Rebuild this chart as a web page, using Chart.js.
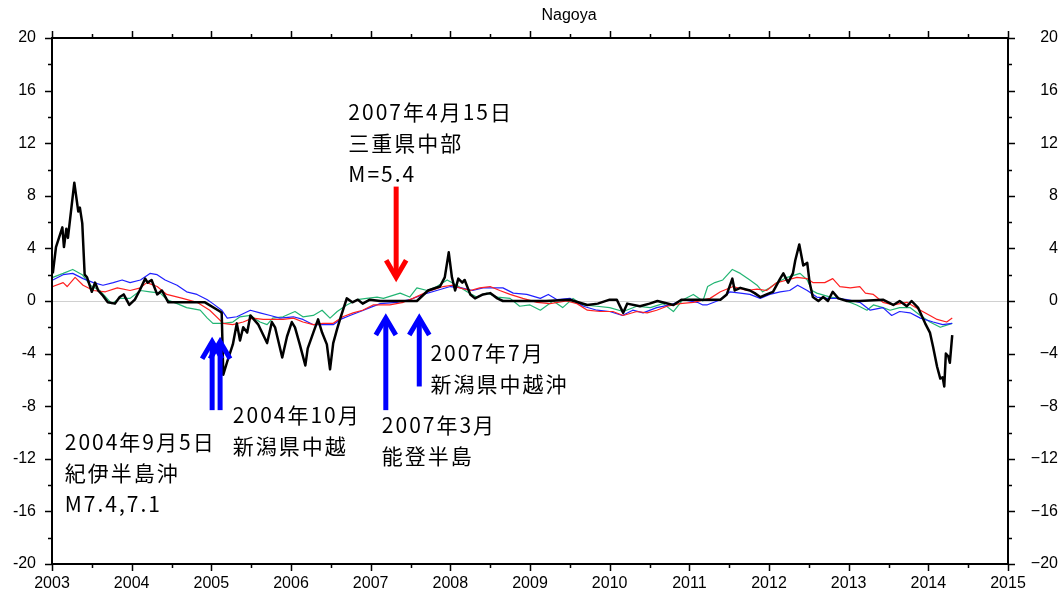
<!DOCTYPE html>
<html lang="ja">
<head>
  <meta charset="UTF-8">
  <title>Nagoya</title>
  <script src="https://cdn.jsdelivr.net/npm/chart.js"></script>
  <style>
    body {
      margin: 0;
      background: #ffffff;
    }
    canvas {
      display: block;
    }
  </style>
</head>
<body>

<canvas id="chart" width="1064" height="596"></canvas>

<script>
  // time axis in decimal years
  const blackYears = [2003.01, 2003.05, 2003.13, 2003.15, 2003.18, 2003.20, 2003.28, 2003.33, 2003.35, 2003.38,
    2003.41, 2003.44, 2003.50, 2003.54, 2003.58, 2003.64, 2003.70, 2003.79, 2003.85, 2003.90,
    2003.97, 2004.04, 2004.10, 2004.17, 2004.20, 2004.25, 2004.32, 2004.38, 2004.46, 2004.60,
    2004.75, 2004.92, 2005.11, 2005.13, 2005.15, 2005.20, 2005.27, 2005.32, 2005.36, 2005.40,
    2005.45, 2005.49, 2005.52, 2005.59, 2005.70, 2005.76, 2005.80, 2005.89, 2005.95, 2006.01,
    2006.05, 2006.11, 2006.18, 2006.21, 2006.28, 2006.34, 2006.39, 2006.45, 2006.49, 2006.53,
    2006.58, 2006.62, 2006.70, 2006.77, 2006.84, 2006.90, 2006.99, 2007.12, 2007.40, 2007.58,
    2007.72, 2007.87, 2007.93, 2007.98, 2008.02, 2008.06, 2008.10, 2008.15, 2008.18, 2008.25,
    2008.31, 2008.41, 2008.50, 2008.59, 2008.66, 2008.90, 2009.20, 2009.50, 2009.72, 2009.85,
    2010.00, 2010.09, 2010.17, 2010.22, 2010.38, 2010.50, 2010.60, 2010.80, 2010.90, 2011.10,
    2011.39, 2011.47, 2011.54, 2011.57, 2011.64, 2011.76, 2011.82, 2011.89, 2011.97, 2012.05,
    2012.14, 2012.18, 2012.24, 2012.30, 2012.33, 2012.38, 2012.43, 2012.48, 2012.51, 2012.55,
    2012.62, 2012.68, 2012.74, 2012.80, 2012.87, 2012.98, 2013.14, 2013.43, 2013.56, 2013.64,
    2013.73, 2013.79, 2013.87, 2013.96, 2014.02, 2014.06, 2014.11, 2014.15, 2014.18, 2014.20,
    2014.22, 2014.25, 2014.27, 2014.30];
  const blackVals = [2.1, 4.1, 5.6, 4.1, 5.5, 4.8, 9.0, 6.8, 7.1, 5.9,
    2.0, 1.8, 0.7, 1.4, 0.8, 0.4, -0.1, -0.2, 0.3, 0.5,
    -0.3, 0.1, 0.8, 1.7, 1.4, 1.6, 0.5, 0.8, -0.1, -0.1,
    -0.1, -0.1, -0.8, -0.9, -5.6, -4.6, -3.3, -1.7, -3.0, -2.0,
    -2.4, -1.1, -1.3, -1.8, -3.2, -1.6, -2.0, -4.3, -2.7, -1.6,
    -2.0, -3.3, -4.9, -3.6, -2.4, -1.4, -2.4, -3.3, -5.2, -3.2,
    -2.1, -1.3, 0.2, -0.1, 0.1, -0.2, 0.1, 0.0, 0.0, 0.0,
    0.8, 1.1, 1.8, 3.7, 1.8, 0.8, 1.7, 1.4, 1.6, 0.5,
    0.2, 0.5, 0.6, 0.2, 0.0, 0.0, 0.0, 0.1, -0.3, -0.2,
    0.1, 0.1, -0.9, -0.2, -0.4, -0.2, 0.0, -0.3, 0.1, 0.1,
    0.1, 0.5, 1.7, 0.8, 1.0, 0.8, 0.6, 0.3, 0.5, 0.7,
    1.7, 2.1, 1.4, 2.1, 3.1, 4.3, 2.7, 2.9, 1.4, 0.3,
    0.0, 0.3, 0.0, 0.7, 0.2, 0.0, 0.0, 0.1, -0.3, 0.0,
    -0.4, 0.0, -0.5, -1.7, -2.4, -3.5, -5.0, -5.9, -5.8, -6.5,
    -4.0, -4.2, -4.7, -2.6];

  const redYears = [2003.01, 2003.14, 2003.19, 2003.29, 2003.39, 2003.52, 2003.67, 2003.82, 2003.98, 2004.11,
    2004.19, 2004.32, 2004.44, 2004.64, 2004.82, 2004.98, 2005.15, 2005.27, 2005.40, 2005.52,
    2005.65, 2005.77, 2005.90, 2006.03, 2006.15, 2006.28, 2006.40, 2006.53, 2006.65, 2006.78,
    2006.90, 2007.03, 2007.24, 2007.41, 2007.53, 2007.71, 2007.91, 2008.02, 2008.12, 2008.25,
    2008.37, 2008.50, 2008.62, 2008.75, 2008.91, 2009.09, 2009.25, 2009.46, 2009.59, 2009.72,
    2009.88, 2010.04, 2010.17, 2010.34, 2010.47, 2010.59, 2010.72, 2010.88, 2011.05, 2011.26,
    2011.39, 2011.55, 2011.72, 2011.85, 2011.97, 2012.10, 2012.23, 2012.35, 2012.48, 2012.55,
    2012.70, 2012.80, 2012.89, 2013.02, 2013.14, 2013.21, 2013.31, 2013.43, 2013.56, 2013.73,
    2013.90, 2014.02, 2014.11, 2014.23, 2014.30];
  const redVals = [1.1, 1.4, 1.1, 1.8, 1.2, 0.8, 0.7, 1.0, 0.8, 1.0,
    1.4, 1.1, 0.5, 0.2, -0.1, -0.7, -1.7, -1.8, -1.6, -1.3,
    -1.4, -1.4, -1.4, -1.3, -1.6, -1.8, -1.7, -1.7, -1.2, -0.9,
    -0.7, -0.3, -0.3, -0.1, 0.2, 0.7, 1.1, 1.2, 1.0, 0.8,
    1.0, 1.1, 0.8, 0.5, 0.2, -0.1, -0.2, 0.0, -0.2, -0.7,
    -0.8, -0.8, -1.1, -0.8, -0.9, -0.7, -0.4, -0.2, -0.1, 0.2,
    0.7, 1.1, 0.8, 0.9, 0.8, 1.4, 1.6, 1.8, 1.7, 1.4,
    1.4, 1.7, 1.1, 1.0, 1.1, 0.6, 0.5, -0.1, -0.3, -0.1,
    -0.7, -1.1, -1.4, -1.6, -1.3];

  const blueYears = [2003.01, 2003.14, 2003.26, 2003.39, 2003.52, 2003.64, 2003.77, 2003.88, 2003.98, 2004.11,
    2004.23, 2004.32, 2004.42, 2004.57, 2004.69, 2004.82, 2004.95, 2005.02, 2005.13, 2005.20,
    2005.32, 2005.49, 2005.61, 2005.74, 2005.86, 2006.03, 2006.15, 2006.28, 2006.40, 2006.53,
    2006.62, 2006.74, 2006.87, 2006.99, 2007.12, 2007.33, 2007.49, 2007.66, 2007.83, 2008.00,
    2008.14, 2008.28, 2008.41, 2008.54, 2008.66, 2008.79, 2008.96, 2009.13, 2009.23, 2009.34,
    2009.50, 2009.67, 2009.84, 2010.00, 2010.16, 2010.29, 2010.42, 2010.59, 2010.76, 2010.92,
    2011.10, 2011.17, 2011.22, 2011.39, 2011.51, 2011.64, 2011.76, 2011.89, 2012.01, 2012.14,
    2012.26, 2012.36, 2012.48, 2012.60, 2012.73, 2012.85, 2012.98, 2013.14, 2013.27, 2013.43,
    2013.54, 2013.64, 2013.77, 2013.90, 2014.06, 2014.18, 2014.30];
  const blueVals = [1.6, 2.0, 2.1, 1.7, 1.4, 1.2, 1.4, 1.6, 1.4, 1.6,
    2.1, 2.0, 1.6, 1.2, 0.7, 0.5, 0.1, -0.2, -0.7, -1.3,
    -1.2, -0.7, -0.9, -1.1, -1.3, -1.2, -1.4, -1.8, -1.8, -1.8,
    -1.4, -1.1, -0.8, -0.5, -0.2, -0.1, 0.1, 0.5, 0.8, 1.1,
    1.0, 0.8, 1.0, 1.0, 1.0, 0.6, 0.5, 0.2, 0.5, 0.1,
    0.2, -0.4, -0.7, -0.8, -1.1, -0.7, -0.9, -0.5, -0.3, 0.1,
    -0.1, -0.3, -0.3, 0.1, 0.7, 0.6, 0.5, 0.2, 0.5, 0.7,
    0.8, 1.2, 0.8, 0.3, 0.2, 0.2, 0.1, -0.1, -0.7, -0.5,
    -1.1, -0.8, -0.9, -1.3, -1.6, -1.8, -1.7];

  const greenYears = [2003.01, 2003.14, 2003.26, 2003.38, 2003.48, 2003.60, 2003.75, 2003.85, 2003.98, 2004.11,
    2004.23, 2004.36, 2004.44, 2004.57, 2004.69, 2004.86, 2004.95, 2005.02, 2005.15, 2005.27,
    2005.36, 2005.49, 2005.61, 2005.70, 2005.77, 2005.90, 2006.05, 2006.15, 2006.28, 2006.39,
    2006.49, 2006.58, 2006.70, 2006.83, 2006.95, 2007.08, 2007.16, 2007.37, 2007.49, 2007.58,
    2007.71, 2007.83, 2007.96, 2008.08, 2008.21, 2008.33, 2008.46, 2008.59, 2008.75, 2008.87,
    2009.00, 2009.13, 2009.29, 2009.41, 2009.54, 2009.66, 2009.84, 2010.00, 2010.17, 2010.34,
    2010.51, 2010.67, 2010.80, 2010.92, 2011.05, 2011.17, 2011.23, 2011.32, 2011.42, 2011.54,
    2011.64, 2011.76, 2011.85, 2011.92, 2012.01, 2012.10, 2012.23, 2012.39, 2012.48, 2012.54,
    2012.60, 2012.77, 2012.89, 2013.10, 2013.23, 2013.31, 2013.43, 2013.52, 2013.64, 2013.77,
    2013.90, 2014.02, 2014.15, 2014.25, 2014.30];
  const greenVals = [1.8, 2.1, 2.4, 2.0, 1.2, 0.8, -0.2, 0.2, 0.2, 0.8,
    0.7, 0.6, 0.1, -0.2, -0.5, -0.7, -1.3, -1.7, -1.7, -1.6,
    -1.2, -1.1, -1.6, -1.8, -1.3, -1.2, -0.8, -1.2, -1.1, -0.7,
    -1.3, -0.8, -0.3, 0.1, 0.2, 0.3, 0.2, 0.6, 0.3, 1.0,
    0.8, 1.1, 1.6, 1.2, 0.7, 0.3, 0.6, 0.3, 0.2, -0.4,
    -0.3, -0.7, 0.0, -0.5, 0.2, -0.3, -0.4, -0.5, -0.8, -0.4,
    -0.5, -0.2, -0.8, 0.1, 0.5, 0.0, 1.1, 1.4, 1.6, 2.4,
    2.1, 1.6, 1.2, 0.7, 1.0, 1.4, 1.8, 2.1, 1.6, 0.8,
    0.6, 0.3, 0.2, -0.3, -0.7, -0.3, -0.5, -0.7, -0.5, -0.5,
    -1.1, -1.6, -2.0, -1.8, -1.7];

  const xMin = 2003, xMax = 2015;
  const yMin = -20, yMax = 20;

  const pts = (xs, ys) => xs.map((x, i) => ({ x: x, y: ys[i] }));

  // earthquake markers: arrows (year, from value, to value) and text blocks
  const arrows = [
    { x: 2007.32, from: 8.7, to: 1.8, color: '#ff0000' },
    { x: 2005.01, from: -8.3, to: -3.1, color: '#0000ff' },
    { x: 2005.11, from: -8.3, to: -3.1, color: '#0000ff' },
    { x: 2007.19, from: -8.3, to: -1.3, color: '#0000ff' },
    { x: 2007.61, from: -6.5, to: -1.3, color: '#0000ff' }
  ];
  const notes = [
    { x: 2006.72, y: 14.37, lines: ['2007年4月15日', '三重県中部', 'M=5.4'] },
    { x: 2007.75, y: -3.95, lines: ['2007年7月', '新潟県中越沖'] },
    { x: 2005.27, y: -8.67, lines: ['2004年10月', '新潟県中越'] },
    { x: 2007.14, y: -9.43, lines: ['2007年3月', '能登半島'] },
    { x: 2003.16, y: -10.72, lines: ['2004年9月5日', '紀伊半島沖', 'M7.4,7.1'] }
  ];

  const tickFont = { family: 'Liberation Sans', size: 16 };

  const notesPlugin = {
    id: 'notes',
    afterDatasetsDraw(chart) {
      const ctx = chart.ctx;
      const xs = chart.scales.x, ys = chart.scales.y;
      ctx.save();
      arrows.forEach(a => {
        const px = xs.getPixelForValue(a.x);
        const y0 = ys.getPixelForValue(a.from);
        const y1 = ys.getPixelForValue(a.to);
        const dir = y1 > y0 ? 1 : -1;
        ctx.strokeStyle = a.color;
        ctx.lineWidth = 5;
        ctx.lineCap = 'butt';
        ctx.lineJoin = 'miter';
        ctx.beginPath();
        ctx.moveTo(px, y0);
        ctx.lineTo(px, y1 - dir * 2);
        ctx.stroke();
        ctx.beginPath();
        ctx.moveTo(px - 10, y1 - dir * 17);
        ctx.lineTo(px, y1);
        ctx.lineTo(px + 10, y1 - dir * 17);
        ctx.stroke();
      });
      ctx.fillStyle = '#000';
      ctx.font = '21px "Noto Sans CJK JP"';
      ctx.letterSpacing = '2px';
      ctx.textAlign = 'left';
      ctx.textBaseline = 'middle';
      notes.forEach(n => {
        const px = xs.getPixelForValue(n.x);
        const py = ys.getPixelForValue(n.y);
        n.lines.forEach((t, i) => ctx.fillText(t, px, py + i * 31));
      });
      ctx.restore();
    },
    afterDraw(chart) {
      const ctx = chart.ctx;
      const a = chart.chartArea;
      const xs = chart.scales.x, ys = chart.scales.y;
      ctx.save();
      ctx.strokeStyle = '#000';
      ctx.lineWidth = 1.5;
      ctx.beginPath();
      for (let v = xMin; v <= xMax; v += 0.5) {
        const px = Math.round(xs.getPixelForValue(v)) + 0.5;
        const len = Number.isInteger(v) ? 7 : 4;
        ctx.moveTo(px, a.bottom); ctx.lineTo(px, a.bottom + len);
        ctx.moveTo(px, a.top); ctx.lineTo(px, a.top - len);
      }
      for (let v = yMin; v <= yMax; v += 2) {
        const py = Math.round(ys.getPixelForValue(v)) + 0.5;
        const len = v % 4 === 0 ? 7 : 4;
        ctx.moveTo(a.left, py); ctx.lineTo(a.left - len, py);
        ctx.moveTo(a.right, py); ctx.lineTo(a.right + len, py);
      }
      ctx.stroke();
      ctx.lineWidth = 2;
      ctx.strokeRect(a.left, a.top, a.right - a.left, a.bottom - a.top);
      ctx.fillStyle = '#000';
      ctx.font = '16px "Liberation Sans"';
      ctx.textAlign = 'center';
      ctx.textBaseline = 'middle';
      ctx.fillText('Nagoya', 569, 16);
      ctx.restore();
    }
  };

  const yScale = (pos, width, fmt) => ({
    type: 'linear',
    position: pos,
    min: yMin,
    max: yMax,
    afterFit: s => { s.width = width; },
    ticks: {
      stepSize: 4,
      color: '#000',
      font: tickFont,
      padding: 16,
      crossAlign: pos === 'right' ? 'far' : 'near',
      callback: fmt
    },
    grid: {
      display: pos === 'left',
      drawTicks: false,
      color: c => (c.tick && c.tick.value === 0) ? '#d0d0d0' : 'rgba(0,0,0,0)'
    },
    border: { display: false }
  });

  new Chart(document.getElementById('chart'), {
    type: 'line',
    data: {
      datasets: [
        { label: 'black', data: pts(blackYears, blackVals), borderColor: '#000000', borderWidth: 2.5, order: 0 },
        { label: 'red', data: pts(redYears, redVals), borderColor: '#ff2020', borderWidth: 1.2, order: 1 },
        { label: 'blue', data: pts(blueYears, blueVals), borderColor: '#2020ff', borderWidth: 1.2, order: 2 },
        { label: 'green', data: pts(greenYears, greenVals), borderColor: '#22b573', borderWidth: 1.2, order: 3 }
      ]
    },
    options: {
      responsive: false,
      animation: false,
      devicePixelRatio: 1,
      layout: { padding: { left: 0, right: 6, top: 0, bottom: 0 } },
      elements: {
        point: { radius: 0 },
        line: { tension: 0, fill: false, borderJoinStyle: 'round' }
      },
      plugins: {
        legend: { display: false },
        tooltip: { enabled: false },
        title: { display: false }
      },
      scales: {
        x: {
          type: 'linear',
          position: 'bottom',
          min: xMin,
          max: xMax,
          afterFit: s => { s.height = 32; },
          ticks: {
            stepSize: 1,
            color: '#000',
            font: tickFont,
            padding: 10,
            maxRotation: 0,
            autoSkip: false,
            callback: v => String(v)
          },
          grid: { display: false, drawTicks: false },
          border: { display: false }
        },
        xTop: {
          type: 'linear',
          position: 'top',
          min: xMin,
          max: xMax,
          afterFit: s => { s.height = 38; },
          ticks: { display: false },
          grid: { display: false, drawTicks: false },
          border: { display: false }
        },
        y: yScale('left', 52, v => String(v)),
        y2: yScale('right', 50, v => v < 0 ? '\u2212' + (-v) : String(v))
      }
    },
    plugins: [notesPlugin]
  });
</script>

</body>
</html>
